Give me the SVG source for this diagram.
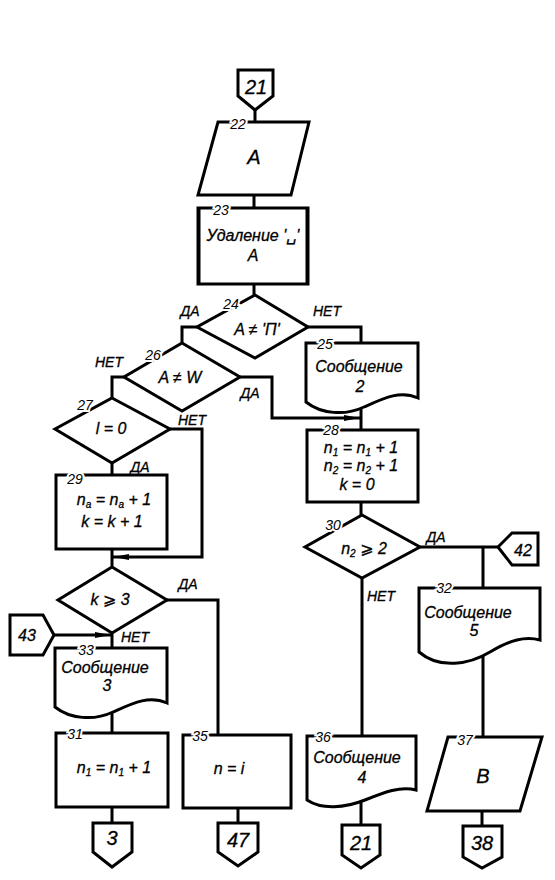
<svg xmlns="http://www.w3.org/2000/svg" width="555" height="880" viewBox="0 0 555 880">
<style>
.s{fill:#fff;stroke:#000;stroke-width:3;stroke-linejoin:miter}
.e{fill:none;stroke:#000;stroke-width:3}
text{font-family:"Liberation Sans","DejaVu Sans",sans-serif;font-style:italic;fill:#000;text-anchor:middle;stroke:#000;stroke-width:0.3}
.t{font-size:16px}
.big{font-size:20px}
.num{font-size:14px;paint-order:stroke;stroke:#fff;stroke-width:4}
.lbl{font-size:14px}
.sub{font-size:10px}
</style>
<defs>
<marker id="ar" viewBox="0 0 16 8" refX="16" refY="4" markerWidth="16" markerHeight="8" markerUnits="userSpaceOnUse" orient="auto">
<path d="M0,1 L16,4 L0,7 Z" fill="#000"/>
</marker>
</defs>
<rect width="555" height="880" fill="#fff"/>
<g id="connectors">
<path class="e" d="M255,110 V122"/>
<path class="e" d="M254,195 V208"/>
<path class="e" d="M254,284 V295"/>
<path class="e" d="M197,327 H182 V343"/>
<path class="e" d="M308,327 H361 V343"/>
<path class="e" d="M361,405 V430"/>
<path class="e" d="M240,377 H272 V418 H360" marker-end="url(#ar)"/>
<path class="e" d="M124,377 H112 V398"/>
<path class="e" d="M112,463 V475"/>
<path class="e" d="M170,429 H202 V557 H113" marker-end="url(#ar)"/>
<path class="e" d="M112,549 V567"/>
<path class="e" d="M167,600 H218 V735"/>
<path class="e" d="M112,633 V648"/>
<path class="e" d="M54,635 H111" marker-end="url(#ar)"/>
<path class="e" d="M112,710 V733"/>
<path class="e" d="M112,807 V823"/>
<path class="e" d="M238,808 V823"/>
<path class="e" d="M361,502 V515"/>
<path class="e" d="M420,547 H498 M483,547 V588"/>
<path class="e" d="M362,578 V736"/>
<path class="e" d="M483,652 V737"/>
<path class="e" d="M482,811 V826"/>
<path class="e" d="M361,802 V825"/>
<text class="lbl" x="190" y="316">ДА</text>
<text class="lbl" x="327" y="316">НЕТ</text>
<text class="lbl" x="109" y="367">НЕТ</text>
<text class="lbl" x="250" y="398">ДА</text>
<text class="lbl" x="192" y="425">НЕТ</text>
<text class="lbl" x="140" y="472">ДА</text>
<text class="lbl" x="188" y="589">ДА</text>
<text class="lbl" x="135" y="642">НЕТ</text>
<text class="lbl" x="436" y="542">ДА</text>
<text class="lbl" x="381" y="601">НЕТ</text>
</g>
<g id="n21top">
<polygon class="s" points="238,70 273,70 273,96 255,110 238,96"/>
<text class="big" x="256" y="94">21</text>
</g>
<g id="n22">
<polygon class="s" points="218,122 309,122 291,195 198,195"/>
<text class="num" x="238" y="129">22</text>
<text class="big" x="254" y="164">A</text>
</g>
<g id="n23">
<rect class="s" x="198" y="208" width="110" height="76"/>
<path class="e" d="M199,208 V284 M307,208 V284" stroke-width="5"/>
<text class="num" x="221" y="215">23</text>
<text class="t" x="253" y="241">Удаление '␣'</text>
<text class="t" x="253" y="261">A</text>
</g>
<g id="n24">
<polygon class="s" points="255,295 308,327 255,358 197,327"/>
<text class="num" x="231" y="309">24</text>
<text class="t" x="257" y="335">A ≠ 'П'</text>
</g>
<g id="n25">
<path class="s" d="M306,343 H418 V398 C400,390 384,398 364,407 C345,416 321,414 306,402 Z"/>
<text class="num" x="325" y="349">25</text>
<text class="t" x="359" y="372">Сообщение</text>
<text class="t" x="360" y="392">2</text>
</g>
<g id="n26">
<polygon class="s" points="182,343 240,377 182,411 124,377"/>
<text class="num" x="153" y="360">26</text>
<text class="t" x="180" y="383">A ≠ W</text>
</g>
<g id="n27">
<polygon class="s" points="112,398 170,429 112,463 55,429"/>
<text class="num" x="85" y="410">27</text>
<text class="t" x="111" y="434">l = 0</text>
</g>
<g id="n28">
<rect class="s" x="307" y="430" width="111" height="72"/>
<text class="num" x="331" y="435">28</text>
<text class="t" x="361" y="453">n<tspan class="sub" dy="3">1</tspan><tspan dy="-3"> = n</tspan><tspan class="sub" dy="3">1</tspan><tspan dy="-3"> + 1</tspan></text>
<text class="t" x="361" y="471">n<tspan class="sub" dy="3">2</tspan><tspan dy="-3"> = n</tspan><tspan class="sub" dy="3">2</tspan><tspan dy="-3"> + 1</tspan></text>
<text class="t" x="357" y="490">k = 0</text>
</g>
<g id="n29">
<rect class="s" x="56" y="475" width="111" height="74"/>
<text class="num" x="75" y="484">29</text>
<text class="t" x="114" y="505">n<tspan class="sub" dy="3">a</tspan><tspan dy="-3"> = n</tspan><tspan class="sub" dy="3">a</tspan><tspan dy="-3"> + 1</tspan></text>
<text class="t" x="112" y="527">k = k + 1</text>
</g>
<g id="n30">
<polygon class="s" points="362,515 420,547 362,578 305,547"/>
<text class="num" x="333" y="530">30</text>
<text class="t" x="364" y="554">n<tspan class="sub" dy="3">2</tspan><tspan dy="-3"> ⩾ 2</tspan></text>
</g>
<g id="n42">
<polygon class="s" points="498,547 512,533 538,533 538,565 512,565"/>
<text class="t" x="523" y="556">42</text>
</g>
<g id="nk3">
<polygon class="s" points="112,567 167,600 112,633 58,600"/>
<text class="t" x="110" y="605">k ⩾ 3</text>
</g>
<g id="n43">
<polygon class="s" points="10,615 43,615 54,635 43,655 10,655"/>
<text class="t" x="27" y="641">43</text>
</g>
<g id="n32">
<path class="s" d="M419,588 H540 V640 C525,636 510,640 490,652 C470,664 440,670 419,652 Z"/>
<text class="num" x="444" y="593">32</text>
<text class="t" x="468" y="618">Сообщение</text>
<text class="t" x="474" y="636">5</text>
</g>
<g id="n33">
<path class="s" d="M55,648 H167 V703 C149,695 133,703 113,712 C94,721 70,719 55,707 Z"/>
<text class="num" x="86" y="655">33</text>
<text class="t" x="105" y="673">Сообщение</text>
<text class="t" x="107" y="691">3</text>
</g>
<g id="n31">
<rect class="s" x="56" y="733" width="112" height="74"/>
<text class="num" x="75" y="739">31</text>
<text class="t" x="114" y="773">n<tspan class="sub" dy="3">1</tspan><tspan dy="-3"> = n</tspan><tspan class="sub" dy="3">1</tspan><tspan dy="-3"> + 1</tspan></text>
</g>
<g id="n35">
<rect class="s" x="183" y="735" width="108" height="73"/>
<text class="num" x="200" y="741">35</text>
<text class="t" x="229" y="774">n = i</text>
</g>
<g id="n36">
<path class="s" d="M307,736 H416 V790 C400,786 385,792 365,800 C345,808 322,810 307,800 Z"/>
<text class="num" x="323" y="742">36</text>
<text class="t" x="357" y="763">Сообщение</text>
<text class="t" x="362" y="783">4</text>
</g>
<g id="n37">
<polygon class="s" points="448,737 542,737 520,811 427,811"/>
<text class="num" x="465" y="745">37</text>
<text class="big" x="483" y="783">B</text>
</g>
<g id="n3">
<polygon class="s" points="93,823 132,823 132,852 112,867 93,852"/>
<text class="big" x="112" y="845">3</text>
</g>
<g id="n47">
<polygon class="s" points="218,823 258,823 258,852 238,866 218,852"/>
<text class="big" x="238" y="847">47</text>
</g>
<g id="n21bottom">
<polygon class="s" points="342,825 380,825 380,855 361,868 342,855"/>
<text class="big" x="361" y="850">21</text>
</g>
<g id="n38">
<polygon class="s" points="463,826 502,826 502,857 482,868 463,857"/>
<text class="big" x="482" y="850">38</text>
</g>
</svg>
